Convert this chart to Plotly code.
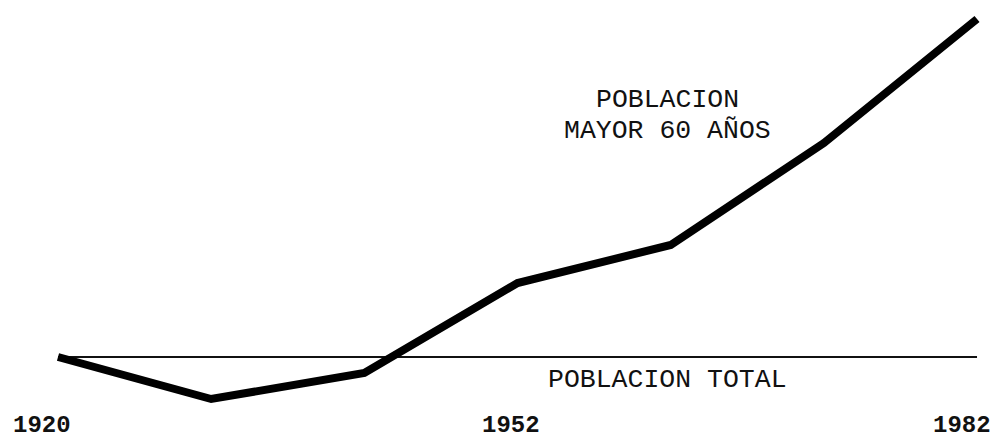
import plotly.graph_objects as go

# Chile census years (drawn equally spaced)
years = ["1920", "1930", "1940", "1952", "1960", "1970", "1982"]
# relative growth of population over 60 (index, baseline = total population)
mayor60 = [0.0, -4.2, -1.6, 7.4, 11.2, 21.4, 33.8]
total = [0.0, 0.0, 0.0, 0.0, 0.0, 0.0, 0.0]
year_labels = ["1920", "1952", "1982"]
year_label_x = [-0.104, 2.957, 5.902]

xi = list(range(len(years)))

fig = go.Figure()
fig.add_trace(go.Scatter(x=xi, y=total, mode="lines",
                         line=dict(color="#111", width=2.2), hoverinfo="skip"))
fig.add_trace(go.Scatter(x=xi, y=mayor60, mode="lines",
                         line=dict(color="#000", width=8), hoverinfo="skip"))

mono = "Liberation Mono"
fig.add_annotation(x=3.98, y=25.7, text="POBLACION", showarrow=False,
                   font=dict(family=mono, size=26.5, color="#111"))
fig.add_annotation(x=3.98, y=22.6, text="MAYOR 60 AÑOS", showarrow=False,
                   font=dict(family=mono, size=26.5, color="#111"))
fig.add_annotation(x=3.98, y=-2.3, text="POBLACION TOTAL", showarrow=False,
                   font=dict(family=mono, size=26.5, color="#111"))
for lx, lt in zip(year_label_x, year_labels):
    fig.add_annotation(x=lx, y=-6.8, text=lt, showarrow=False,
                       font=dict(family=mono, size=24, color="#111", weight="bold"))

# the page body has an 8px margin, so the figure is 8px smaller than the window
fig.update_layout(
    width=992, height=434,
    margin=dict(l=0, r=0, t=0, b=0),
    paper_bgcolor="white", plot_bgcolor="white",
    showlegend=False,
    xaxis=dict(range=[-0.3264, 6.150], visible=False),
    yaxis=dict(range=[-8.5, 34.9], visible=False),
)
fig.write_html("out.html")
